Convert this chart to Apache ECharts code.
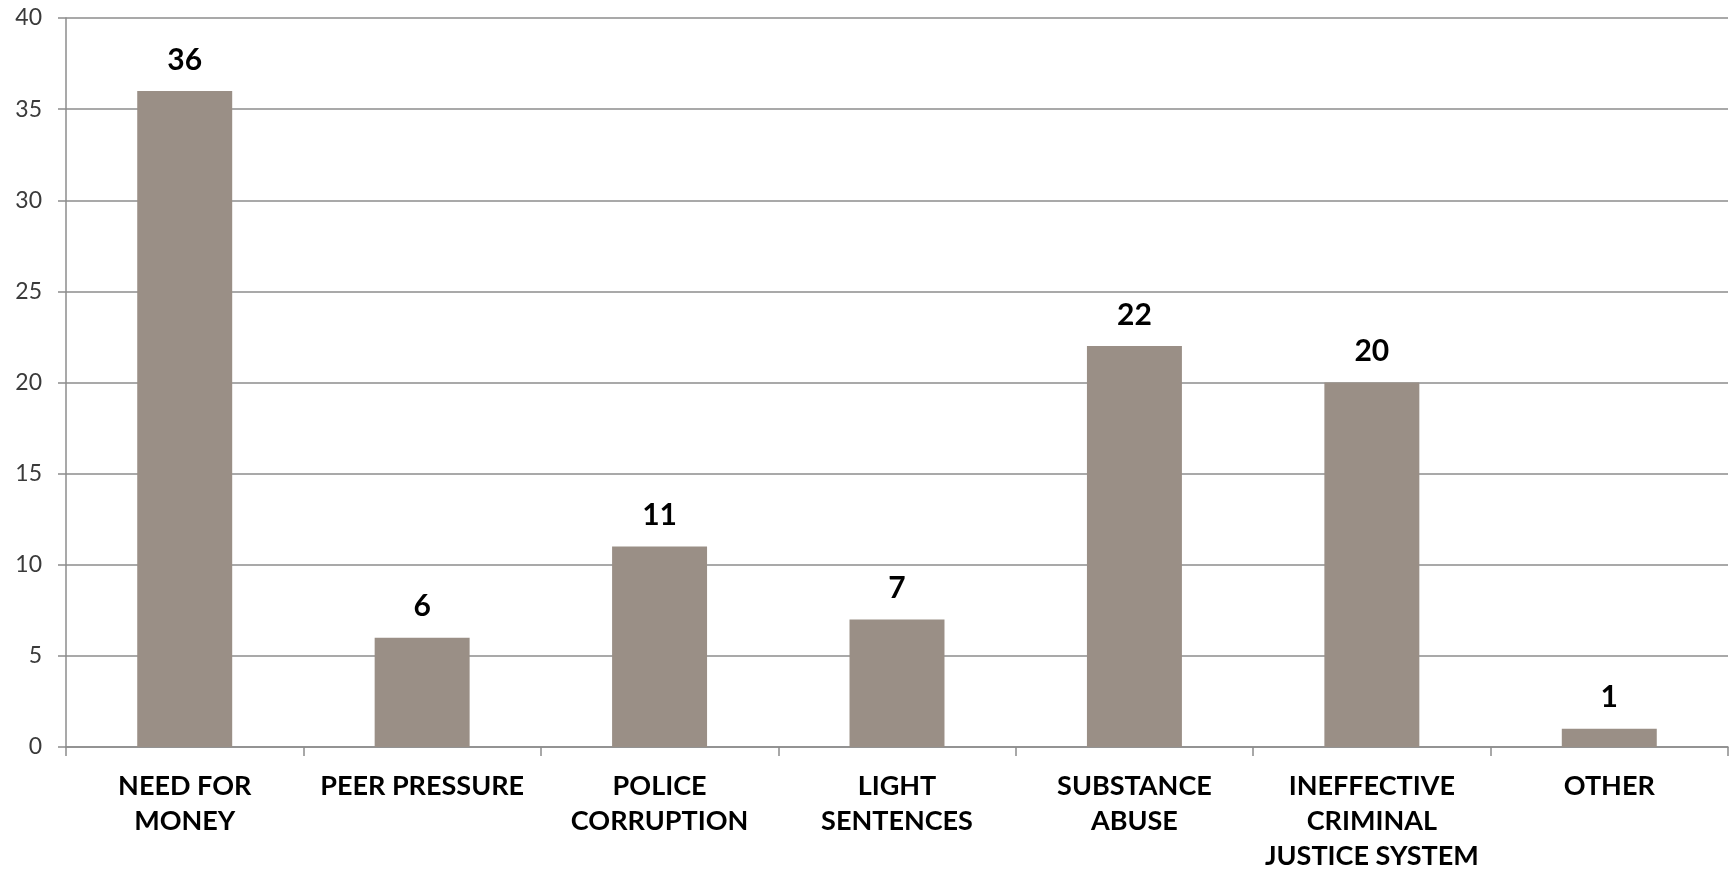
<!DOCTYPE html>
<html>
<head>
<meta charset="utf-8">
<script src="https://cdn.jsdelivr.net/npm/echarts@6/dist/echarts.min.js"></script>
<style>
  html, body { margin: 0; padding: 0; background: #fff; }
  #chart { width: 1733px; height: 871px; }
</style>
</head>
<body>
<div id="chart"></div>
<script>
// categories and values
const categories = [
  'NEED FOR\nMONEY',
  'PEER PRESSURE',
  'POLICE\nCORRUPTION',
  'LIGHT\nSENTENCES',
  'SUBSTANCE\nABUSE',
  'INEFFECTIVE\nCRIMINAL\nJUSTICE SYSTEM',
  'OTHER'
];
const values = [36, 6, 11, 7, 22, 20, 1];
const yMin = 0;
const yMax = 40;
const yStep = 5;

const chart = echarts.init(document.getElementById('chart'));

const option = {
  animation: false,
  grid: {
    left: 66,
    right: 5,
    top: 18,
    bottom: 124,
    containLabel: false,
    outerBoundsMode: 'none'
  },
  xAxis: {
    type: 'category',
    data: categories,
    axisLine: { show: true, lineStyle: { color: '#8c8c8c', width: 1.5 } },
    axisTick: { show: true, length: 9, lineStyle: { color: '#8c8c8c', width: 1.5 } },
    axisLabel: {
      interval: 0,
      margin: 22,
      color: '#000',
      fontFamily: 'Lato',
      fontWeight: 'bold',
      fontSize: 27,
      lineHeight: 35
    }
  },
  yAxis: {
    type: 'value',
    min: yMin,
    max: yMax,
    interval: yStep,
    axisLine: { show: true, lineStyle: { color: '#8c8c8c', width: 1.5 } },
    axisTick: { show: true, length: 8, lineStyle: { color: '#8c8c8c', width: 1.5 } },
    splitLine: { show: true, lineStyle: { color: '#8c8c8c', width: 1.5 } },
    axisLabel: {
      margin: 24,
      color: '#3a3a3a',
      fontFamily: 'Lato',
      fontSize: 23
    }
  },
  series: [
    {
      type: 'bar',
      data: values,
      barWidth: '40%',
      itemStyle: { color: '#9a8f86' },
      label: {
        show: true,
        position: 'top',
        distance: 16,
        color: '#000',
        fontFamily: 'Lato',
        fontWeight: 'bold',
        fontSize: 30
      }
    }
  ]
};

chart.setOption(option);
</script>
</body>
</html>
